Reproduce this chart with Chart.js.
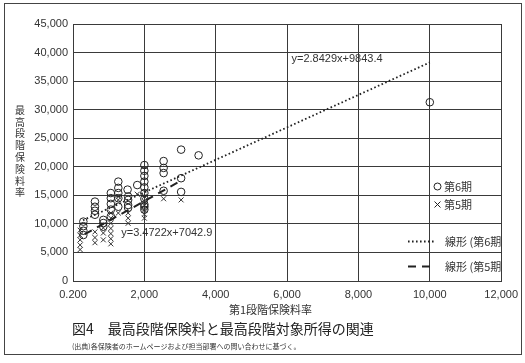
<!DOCTYPE html>
<html>
<head>
<meta charset="utf-8">
<script src="https://cdn.jsdelivr.net/npm/chart.js@4"></script>
<style>
  html, body { margin: 0; padding: 0; background: #fff; }
  #wrap { position: relative; width: 525px; height: 363px; overflow: hidden; }
  #chart { position: absolute; left: 0; top: 0; }
  .txt { position: absolute; color: #333; font-family: "Noto Sans CJK JP", "Noto Sans", sans-serif; white-space: nowrap; }
  #frame { position: absolute; left: 4px; top: 3px; width: 516px; height: 350px; border: 1px solid #444; }
  #xtitle { left: 229px; top: 301px; font-size: 11px; }
  #caption { left: 72px; top: 318px; font-size: 14px; color: #222; }
  #source { left: 72px; top: 341px; font-size: 7px; }
</style>
</head>
<body>
<div id="wrap">
  <canvas id="chart" width="525" height="363"></canvas>
  <div id="frame"></div>
  <div class="txt" id="xtitle">第1段階保険料率</div>
  <div class="txt" id="caption">図4　最高段階保険料と最高段階対象所得の関連</div>
  <div class="txt" id="source">(出典)各保険者のホームページおよび担当部署への問い合わせに基づく。</div>
</div>
<script>
// 第6期 (circles)
const period6X = [290, 290, 290, 290, 615, 615, 615, 615, 850, 850, 850,
  1060, 1060, 1060, 1060, 1060, 1270, 1270, 1270, 1270, 1270, 1530,
  1545, 1545, 1545, 1545, 1800,
  2000, 2000, 2000, 2000, 2000, 2000, 2000, 2000, 2000, 2000,
  2540, 2540, 2540, 2540, 3030, 3030, 3030, 3520, 10000];
const period6Y = [10400, 9600, 8800, 8050, 13900, 13000, 12300, 11600, 10700, 10150, 9500,
  15400, 14500, 13500, 12500, 11300, 17400, 16300, 15400, 14500, 13000, 16000,
  14800, 14200, 13300, 12800, 16800,
  20300, 19300, 18400, 17400, 16400, 15400, 14400, 13400, 13000, 12500,
  21000, 19800, 18900, 15800, 23000, 18000, 15600, 22000, 31300];

// 第5期 (crosses)
const period5X = [200, 200, 200, 200, 200, 615, 615, 615, 850, 850, 850,
  1060, 1060, 1060, 1060, 1060, 1060, 1060, 1270, 1270, 1270,
  1545, 1545, 1545, 1800, 2000, 2000, 2000, 2000, 2000, 2000, 2540, 3030];
const period5Y = [8900, 8000, 7200, 6300, 5500, 8600, 7600, 6700, 9300, 8400, 7200,
  11900, 11000, 10100, 9200, 8300, 7400, 6500, 14800, 14200, 11900,
  11900, 11000, 10100, 15200, 14800, 14000, 13200, 12400, 11700, 11000, 14400, 14200];

// 線形近似 (from the equations printed on the chart)
const trend6 = { slope: 2.8429, intercept: 9843.4, xRange: [280, 10000], label: 'y=2.8429x+9843.4', labelAt: [7400, 38800] };
const trend5 = { slope: 3.4722, intercept: 7042.9, xRange: [330, 3070], label: 'y=3.4722x+7042.9', labelAt: [2630, 8400] };

const xTicks = [0, 2000, 4000, 6000, 8000, 10000, 12000];
const yTicks = [0, 5000, 10000, 15000, 20000, 25000, 30000, 35000, 40000, 45000];
const yTitle = '最高段階保険料率';

const toPoints = (xs, ys) => xs.map((x, i) => ({ x: x, y: ys[i] }));
const trendPoints = t => t.xRange.map(x => ({ x: x, y: t.slope * x + t.intercept }));

const tickFont = { family: '"Liberation Sans", Arial, sans-serif', size: 11 };

// 縦書きの軸タイトル、凡例、近似式ラベル
const overlayPlugin = {
    id: 'overlay',
    afterDatasetsDraw(chart) {
        const ctx = chart.ctx;
        const xs = chart.scales.x, ys = chart.scales.y;
        ctx.save();
        ctx.fillStyle = '#333';
        ctx.textBaseline = 'middle';
        ctx.textAlign = 'center';

        ctx.font = '10px "Noto Sans CJK JP", sans-serif';
        Array.from(yTitle).forEach((ch, i) => {
            ctx.fillText(ch, 20, 110 + i * 11.8);
        });

        ctx.font = '11px "Liberation Sans", Arial, sans-serif';
        [trend6, trend5].forEach(t => {
            ctx.fillText(t.label, xs.getPixelForValue(t.labelAt[0]), ys.getPixelForValue(t.labelAt[1]));
        });

        const area = chart.chartArea;
        ctx.beginPath();
        ctx.rect(0, 0, area.right, chart.height);
        ctx.clip();
        ctx.textAlign = 'left';
        ctx.font = '11px "Noto Sans CJK JP", sans-serif';
        ctx.strokeStyle = '#222';
        ctx.lineWidth = 1;

        ctx.beginPath();
        ctx.arc(437.5, 186.5, 3.5, 0, Math.PI * 2);
        ctx.stroke();
        ctx.fillText('第6期', 444, 187);

        ctx.beginPath();
        ctx.moveTo(434.5, 201.5); ctx.lineTo(440.5, 207.5);
        ctx.moveTo(440.5, 201.5); ctx.lineTo(434.5, 207.5);
        ctx.stroke();
        ctx.fillText('第5期', 444, 205);

        ctx.lineWidth = 1.8;
        ctx.setLineDash([1.6, 2.4]);
        ctx.beginPath();
        ctx.moveTo(408, 241.5); ctx.lineTo(434, 241.5);
        ctx.stroke();
        ctx.fillText('線形 (第6期)', 445, 242);

        ctx.lineWidth = 2;
        ctx.setLineDash([8, 6]);
        ctx.beginPath();
        ctx.moveTo(408, 266.5); ctx.lineTo(434, 266.5);
        ctx.stroke();
        ctx.fillText('線形 (第5期)', 445, 267);
        ctx.restore();
    }
};

new Chart(document.getElementById('chart').getContext('2d'), {
    type: 'scatter',
    data: {
        datasets: [
            {
                label: '第6期',
                data: toPoints(period6X, period6Y),
                pointStyle: 'circle',
                pointRadius: 3.8,
                borderColor: '#222',
                backgroundColor: 'rgba(0,0,0,0)',
                borderWidth: 1
            },
            {
                label: '第5期',
                data: toPoints(period5X, period5Y),
                pointStyle: 'crossRot',
                pointRadius: 3.5,
                borderColor: '#333',
                borderWidth: 1
            },
            {
                label: '線形(第6期)',
                data: trendPoints(trend6),
                showLine: true,
                pointRadius: 0,
                borderColor: '#222',
                borderWidth: 1.8,
                borderDash: [1.6, 2.4]
            },
            {
                label: '線形(第5期)',
                data: trendPoints(trend5),
                showLine: true,
                pointRadius: 0,
                borderColor: '#222',
                borderWidth: 2,
                borderDash: [8, 6]
            }
        ]
    },
    options: {
        responsive: false,
        animation: false,
        layout: { padding: { left: 0, right: 22, top: 24, bottom: 60 } },
        plugins: { legend: { display: false }, tooltip: { enabled: false } },
        scales: {
            x: {
                type: 'linear',
                min: 0,
                max: 12000,
                afterBuildTicks: s => { s.ticks = xTicks.map(v => ({ value: v })); },
                afterFit: s => { s.height = 22; },
                grid: { color: '#3a3a3a', lineWidth: 1, drawTicks: false },
                border: { color: '#3a3a3a' },
                ticks: {
                    padding: 7,
                    color: '#333',
                    font: tickFont,
                    maxRotation: 0,
                    callback: v => v === 0 ? '0.200' : v.toLocaleString('en-US')
                }
            },
            y: {
                type: 'linear',
                min: 0,
                max: 45000,
                afterBuildTicks: s => { s.ticks = yTicks.map(v => ({ value: v })); },
                afterFit: s => { s.width = 73; },
                grid: { color: '#3a3a3a', lineWidth: 1, drawTicks: false },
                border: { color: '#3a3a3a' },
                ticks: {
                    padding: 5,
                    color: '#333',
                    font: tickFont,
                    callback: v => v.toLocaleString('en-US')
                }
            }
        }
    },
    plugins: [overlayPlugin]
});
</script>
</body>
</html>
